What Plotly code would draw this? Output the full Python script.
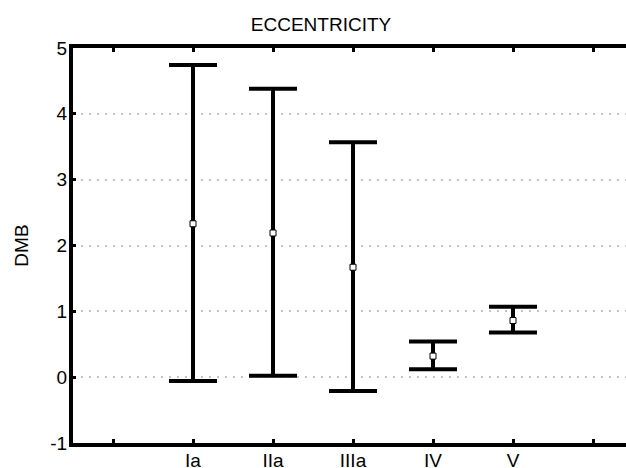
import plotly.graph_objects as go

categories = ["Ia", "IIa", "IIIa", "IV", "V"]
cat_pos = [1, 2, 3, 4, 5]
means = [2.33, 2.19, 1.67, 0.32, 0.86]
upper = [4.74, 4.38, 3.57, 0.54, 1.07]
lower = [-0.06, 0.02, -0.21, 0.12, 0.68]

x_tickvals = [0, 1, 2, 3, 4, 5, 6]
x_ticktext = ["", "Ia", "IIa", "IIIa", "IV", "V", ""]
y_tickvals = [-1, 0, 1, 2, 3, 4, 5]
y_ticktext = ["-1", "0", "1", "2", "3", "4", "5"]

err_plus = [u - m for u, m in zip(upper, means)]
err_minus = [m - l for m, l in zip(means, lower)]

FONT = "Arial, Liberation Sans, sans-serif"

fig = go.Figure()
fig.add_trace(go.Scatter(
    x=cat_pos, y=means, mode="markers",
    marker=dict(symbol="square", size=6, color="white",
                line=dict(color="black", width=1)),
    error_y=dict(type="data", symmetric=False, array=err_plus,
                 arrayminus=err_minus, color="black", thickness=4, width=24),
    showlegend=False, hoverinfo="skip",
))

fig.update_layout(
    width=626, height=468,
    margin=dict(l=73, r=0, t=48, b=25),
    paper_bgcolor="white", plot_bgcolor="white",
    font=dict(family=FONT, size=19, color="black"),
    title=dict(text="ECCENTRICITY", xref="container", yref="container",
               x=321 / 626, xanchor="center", y=1 - 24 / 468, yanchor="middle",
               font=dict(family=FONT, size=19, color="black")),
    xaxis=dict(range=[-0.5, 6.4125], tickvals=x_tickvals, ticktext=x_ticktext,
               automargin=False,
               showgrid=False, zeroline=False, showline=True, linecolor="black",
               linewidth=4, mirror="allticks", ticks="inside", ticklen=4,
               tickwidth=3, tickcolor="black", ticklabelstandoff=-3,
               tickfont=dict(family=FONT, size=19, color="black")),
    yaxis=dict(range=[-1, 5], tickvals=y_tickvals, ticktext=y_ticktext,
               automargin=False,
               showgrid=True, gridcolor="#c4c4c4", gridwidth=2,
               griddash="2px,6px", zeroline=False, showline=True,
               linecolor="black", linewidth=4, mirror=False, ticks="inside",
               ticklen=3, tickwidth=3, tickcolor="black", ticklabelstandoff=-2,
               tickfont=dict(family=FONT, size=19, color="black"),
               title=dict(text="DMB", standoff=18,
                          font=dict(family=FONT, size=19, color="black"))),
)

fig.write_html("out.html")
